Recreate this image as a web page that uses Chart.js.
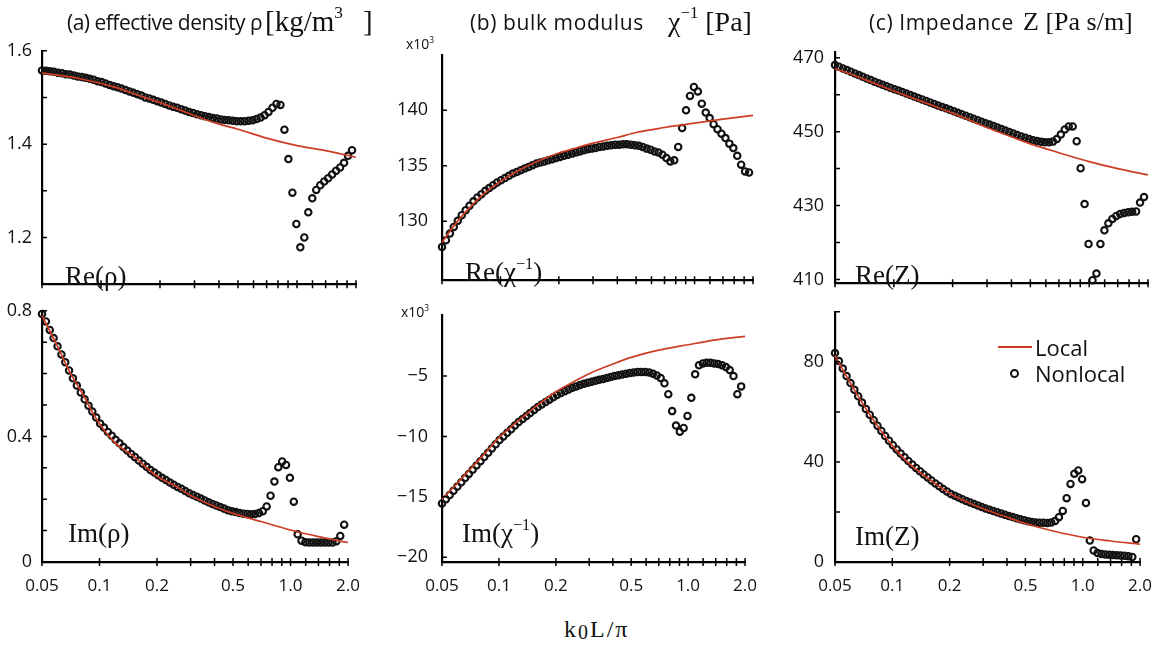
<!DOCTYPE html>
<html lang="en">
<head>
<meta charset="UTF-8" />
<title>Local vs nonlocal effective parameters</title>
<script src="https://cdn.jsdelivr.net/npm/chart.js"></script>
<style>
  html, body { margin: 0; padding: 0; background: #fff; }
  body { width: 1167px; height: 648px; position: relative; overflow: hidden; color: #111; }
  canvas { position: absolute; }
  .t { position: absolute; white-space: nowrap; line-height: 1; }
  .sans { font-family: 'Open Sans', sans-serif; }
  .serif { font-family: 'Liberation Serif', 'Times New Roman', serif; }
  .tag { font-family: 'Liberation Serif', serif; font-size: 27px; }
  sup { font-size: 0.6em; vertical-align: 0.75em; line-height: 0; }
  .legline { position: absolute; height: 0; border-top: 2px solid #cc3d24; }
  .legdot { position: absolute; width: 5px; height: 5px; border: 2px solid #111; border-radius: 50%; }
</style>
</head>
<body>
  <canvas id="reRho"></canvas>
  <canvas id="imRho"></canvas>
  <canvas id="reChi"></canvas>
  <canvas id="imChi"></canvas>
  <canvas id="reZ"></canvas>
  <canvas id="imZ"></canvas>

  <div class="t sans" style="left:67px; top:12px; font-size:21px; letter-spacing:-0.5px;">(a) effective density ρ</div>
  <div class="t serif" style="left:265px; top:7px; font-size:29px;">[kg/m<sup>3</sup><span style="margin-left:20px">]</span></div>
  <div class="t sans" style="left:470px; top:12px; font-size:21px; letter-spacing:0.6px;">(b) bulk modulus</div>
  <div class="t serif" style="left:668px; top:8px; font-size:28px;">χ<sup>−1</sup> [Pa]</div>
  <div class="t sans" style="left:869px; top:12px; font-size:21px; letter-spacing:0.6px;">(c) Impedance</div>
  <div class="t serif" style="left:1023px; top:9px; font-size:26px;">Z [Pa s/m]</div>

  <div class="t tag" style="left:65px; top:263px;">Re(ρ)</div>
  <div class="t tag" style="left:68px; top:520px;">Im(ρ)</div>
  <div class="t tag" style="left:465px; top:259px;">Re(χ<sup>−1</sup>)</div>
  <div class="t tag" style="left:462px; top:520px;">Im(χ<sup>−1</sup>)</div>
  <div class="t tag" style="left:855px; top:262px;">Re(Z)</div>
  <div class="t tag" style="left:855px; top:523px;">Im(Z)</div>

  <div class="t sans" style="left:406px; top:37px; font-size:14px;">x10<sup>3</sup></div>
  <div class="t sans" style="left:401px; top:305px; font-size:14px;">x10<sup>3</sup></div>

  <div class="legline" style="left:998px; top:346px; width:34px;"></div>
  <div class="t sans" style="left:1035px; top:336px; font-size:22px;">Local</div>
  <div class="legdot" style="left:1010px; top:369px;"></div>
  <div class="t sans" style="left:1035px; top:362px; font-size:22px;">Nonlocal</div>

  <div class="t serif" style="left:564px; top:617px; font-size:24px; letter-spacing:2px;">k<span style="font-size:20px; position:relative; top:2px;">0</span>L/π</div>

<script>
// k0L/pi sample points of the nonlocal (circles) and local (line) curves
const xNonlocal = [
  0.05, 0.0524, 0.0549, 0.0575, 0.0603, 0.0632, 0.0662, 0.0693, 0.0726, 0.0761,
  0.0798, 0.0836, 0.0876, 0.0917, 0.0961, 0.1007, 0.1055, 0.1106, 0.1159, 0.1214,
  0.1272, 0.1333, 0.1397, 0.1463, 0.1533, 0.1606, 0.1683, 0.1764, 0.1848, 0.1936,
  0.2029, 0.2126, 0.2227, 0.2334, 0.2445, 0.2562, 0.2685, 0.2813, 0.2947, 0.3088,
  0.3236, 0.3391, 0.3553, 0.3723, 0.3901, 0.4087, 0.4283, 0.4487, 0.4702, 0.4926,
  0.5162, 0.5409, 0.5667, 0.5938, 0.6222, 0.6519, 0.6831, 0.7157, 0.7499, 0.7858,
  0.8233, 0.8628, 0.9040, 0.9472, 0.9925, 1.0399, 1.0896, 1.1417, 1.1963, 1.2535,
  1.3134, 1.3761, 1.4419, 1.5109, 1.5831, 1.6588, 1.7381, 1.8211, 1.9082
];
const xLocal = [0.05, 0.06, 0.07, 0.08, 0.1, 0.12, 0.15, 0.2, 0.25, 0.3, 0.4, 0.5, 0.7, 1.0, 1.4, 2.0];

// (a) effective density
const reRhoNonlocal = [
  1.558, 1.557, 1.556, 1.555, 1.553, 1.552, 1.550, 1.549, 1.547, 1.545,
  1.544, 1.542, 1.540, 1.538, 1.535, 1.533, 1.530, 1.527, 1.524, 1.522,
  1.519, 1.516, 1.513, 1.510, 1.507, 1.504, 1.500, 1.498, 1.495, 1.492,
  1.489, 1.486, 1.483, 1.480, 1.478, 1.475, 1.472, 1.469, 1.467, 1.464,
  1.462, 1.460, 1.458, 1.456, 1.455, 1.453, 1.452, 1.451, 1.450, 1.449,
  1.449, 1.449, 1.450, 1.451, 1.454, 1.457, 1.462, 1.469, 1.478, 1.486,
  1.484, 1.431, 1.368, 1.296, 1.229, 1.179, 1.200, 1.254, 1.284, 1.302,
  1.312, 1.320, 1.327, 1.335, 1.343, 1.350, 1.360, 1.375, 1.387
];
const reRhoLocal = [1.552, 1.548, 1.544, 1.539, 1.530, 1.521, 1.507, 1.489, 1.474, 1.461, 1.443, 1.432, 1.413, 1.397, 1.386, 1.372];
const imRhoNonlocal = [
  0.790, 0.766, 0.739, 0.713, 0.687, 0.661, 0.636, 0.610, 0.585, 0.562,
  0.540, 0.518, 0.498, 0.479, 0.460, 0.441, 0.428, 0.414, 0.402, 0.389,
  0.378, 0.366, 0.355, 0.344, 0.334, 0.323, 0.313, 0.303, 0.293, 0.285,
  0.276, 0.268, 0.261, 0.253, 0.246, 0.239, 0.233, 0.226, 0.219, 0.213,
  0.208, 0.202, 0.196, 0.190, 0.185, 0.180, 0.175, 0.170, 0.165, 0.162,
  0.159, 0.156, 0.154, 0.153, 0.152, 0.153, 0.156, 0.162, 0.177, 0.211,
  0.256, 0.302, 0.320, 0.309, 0.268, 0.192, 0.088, 0.068, 0.063, 0.062,
  0.062, 0.062, 0.062, 0.062, 0.062, 0.062, 0.066, 0.083, 0.119
];
const imRhoLocal = [0.785, 0.689, 0.604, 0.544, 0.440, 0.381, 0.338, 0.273, 0.242, 0.212, 0.177, 0.155, 0.129, 0.102, 0.081, 0.062];

// (b) bulk modulus, x10^3 Pa
const reChiNonlocal = [
  127.7, 128.3, 128.9, 129.5, 130.05, 130.55, 131.0, 131.4, 131.8, 132.15,
  132.45, 132.75, 133.0, 133.25, 133.5, 133.7, 133.9, 134.1, 134.3, 134.45,
  134.6, 134.75, 134.9, 135.05, 135.2, 135.3, 135.4, 135.5, 135.6, 135.7,
  135.8, 135.9, 136.0, 136.1, 136.2, 136.3, 136.4, 136.5, 136.55, 136.6,
  136.7, 136.75, 136.8, 136.85, 136.9, 136.9, 136.95, 136.95, 136.9, 136.85,
  136.8, 136.7, 136.55, 136.45, 136.3, 136.2, 136.0, 135.7, 135.4, 135.5,
  136.7, 138.4, 140.0, 141.3, 142.1, 141.7, 140.6, 139.8, 139.3, 138.75,
  138.3, 137.9, 137.5, 137.0, 136.6, 135.9, 135.1, 134.5, 134.4
];
const reChiLocal = [128.1, 130.0, 131.3, 132.3, 133.6, 134.45, 135.3, 136.15, 136.65, 137.05, 137.55, 138.0, 138.45, 138.85, 139.2, 139.55];
const imChiNonlocal = [
  -15.55, -15.2, -14.85, -14.5, -14.15, -13.8, -13.45, -13.1, -12.75, -12.4,
  -12.05, -11.7, -11.35, -11.0, -10.65, -10.3, -10.0, -9.7, -9.4, -9.1,
  -8.8, -8.55, -8.3, -8.05, -7.8, -7.55, -7.35, -7.15, -6.95, -6.75,
  -6.56, -6.4, -6.25, -6.1, -5.97, -5.85, -5.74, -5.64, -5.55, -5.47,
  -5.39, -5.31, -5.23, -5.15, -5.07, -5.0, -4.93, -4.86, -4.8, -4.74,
  -4.69, -4.66, -4.65, -4.66, -4.7, -4.8, -4.95, -5.15, -5.6, -6.5,
  -7.9, -9.1, -9.6, -9.3, -8.3, -6.8, -4.85, -4.1, -3.95, -3.9,
  -3.9, -3.95, -4.0, -4.1, -4.25, -4.5, -5.0, -6.5, -5.85
];
const imChiLocal = [-15.2, -13.9, -12.75, -11.8, -10.1, -9.0, -7.75, -6.3, -5.45, -4.8, -4.0, -3.45, -2.85, -2.4, -2.0, -1.7];

// (c) impedance, Pa s/m
const reZNonlocal = [
  468.0, 467.55, 467.1, 466.65, 466.2, 465.75, 465.3, 464.85, 464.4, 463.95,
  463.5, 463.1, 462.7, 462.3, 461.9, 461.5, 461.1, 460.7, 460.3, 459.9,
  459.5, 459.1, 458.7, 458.3, 457.9, 457.5, 457.1, 456.7, 456.3, 455.9,
  455.5, 455.1, 454.7, 454.3, 453.9, 453.5, 453.1, 452.7, 452.3, 451.9,
  451.5, 451.1, 450.7, 450.3, 449.9, 449.5, 449.1, 448.7, 448.35, 448.0,
  447.7, 447.45, 447.25, 447.1, 447.1, 447.3, 448.0, 449.2, 450.6, 451.4,
  451.4, 447.4, 440.1, 430.4, 419.6, 409.8, 411.6, 419.6, 423.3, 425.2,
  426.4, 427.2, 427.7, 428.0, 428.2, 428.3, 428.4, 430.8, 432.3
];
const reZLocal = [467.0, 465.6, 464.2, 463.0, 461.0, 459.4, 457.5, 455.0, 452.9, 451.1, 448.6, 446.7, 444.3, 441.9, 440.0, 438.3];
const imZNonlocal = [
  83.5, 80.3, 77.3, 74.3, 71.5, 68.8, 66.2, 63.7, 61.2, 58.9,
  56.7, 54.5, 52.4, 50.4, 48.5, 46.7, 45.0, 43.4, 41.9, 40.4,
  39.0, 37.6, 36.3, 35.0, 33.8, 32.6, 31.4, 30.3, 29.2, 28.2,
  27.2, 26.5, 25.8, 25.1, 24.4, 23.8, 23.2, 22.6, 22.0, 21.4,
  20.9, 20.4, 19.9, 19.4, 18.9, 18.4, 18.0, 17.5, 17.1, 16.7,
  16.3, 16.0, 15.8, 15.7, 15.7, 15.6, 15.8, 16.4, 17.9, 20.4,
  25.5, 31.2, 35.3, 36.6, 33.1, 23.6, 8.6, 4.6, 3.6, 3.2,
  3.0, 2.9, 2.8, 2.7, 2.6, 2.5, 2.3, 2.0, 9.1
];
const imZLocal = [82.5, 71.8, 63.2, 56.5, 46.5, 40.0, 34.0, 27.5, 23.8, 21.3, 17.9, 15.4, 12.4, 9.9, 8.4, 7.1];

// axis ticks
const xTicks = [0.05, 0.1, 0.2, 0.3, 0.4, 0.5, 0.6, 0.7, 0.8, 0.9, 1.0, 1.2, 1.4, 1.6, 1.8, 2.0];
const xTickLabels = ['0.05', '0.1', '0.2', '', '', '0.5', '', '', '', '', '1.0', '', '', '', '', '2.0'];
const reRhoTicks = [1.2, 1.3, 1.4, 1.5, 1.6];
const reRhoLabels = ['1.2', '', '1.4', '', '1.6'];
const imRhoTicks = [0, 0.1, 0.2, 0.3, 0.4, 0.5, 0.6, 0.7, 0.8];
const imRhoLabels = ['0', '', '', '', '0.4', '', '', '', '0.8'];
const reChiTicks = [130, 135, 140];
const reChiLabels = ['130', '135', '140'];
const imChiTicks = [-20, -15, -10, -5];
const imChiLabels = ['−20', '−15', '−10', '−5'];
const reZTicks = [410, 420, 430, 440, 450, 460, 470];
const reZLabels = ['410', '', '430', '', '450', '', '470'];
const imZTicks = [0, 20, 40, 60, 80, 100];
const imZLabels = ['0', '', '40', '', '80', ''];

const RED = '#cc3d24';

// tick marks: inward on y, crossing on x
const tickMarks = {
  id: 'tickMarks',
  afterDraw(chart) {
    const { ctx, chartArea: a, scales: { x, y } } = chart;
    ctx.save();
    ctx.strokeStyle = '#000';
    ctx.lineWidth = 1.5;
    ctx.beginPath();
    y.ticks.forEach(t => {
      const p = y.getPixelForValue(t.value);
      ctx.moveTo(a.left, p);
      ctx.lineTo(a.left + 5, p);
    });
    x.ticks.forEach(t => {
      const p = x.getPixelForValue(t.value);
      ctx.moveTo(p, a.bottom - 4);
      ctx.lineTo(p, a.bottom + 4);
    });
    ctx.stroke();
    ctx.restore();
  }
};

function points(xs, ys) {
  return ys.map((v, i) => ({ x: xs[i], y: v }));
}

function makePanel(id, p) {
  const cv = document.getElementById(id);
  const isTop = p.row === 'top';
  const padTop = 10, padRight = 18;
  const xH = isTop ? 5 : 40;
  const plotTop = isTop ? 40 : 300;
  const plotBottom = isTop ? 300 : 562;
  const yW = p.plotLeft - p.canvasLeft;
  cv.width = yW + (p.plotRight - p.plotLeft) + padRight;
  cv.height = padTop + (plotBottom - plotTop) + xH;
  cv.style.left = p.canvasLeft + 'px';
  cv.style.top = (plotTop - padTop) + 'px';

  return new Chart(cv, {
    type: 'scatter',
    data: {
      datasets: [
        {
          label: 'Local',
          data: points(xLocal, p.local),
          showLine: true,
          borderColor: RED,
          borderWidth: 1.7,
          pointRadius: 0,
          cubicInterpolationMode: 'monotone',
          clip: false
        },
        {
          label: 'Nonlocal',
          data: points(xNonlocal, p.nonlocal),
          showLine: false,
          pointRadius: 3.2,
          pointBorderWidth: 2.1,
          pointBorderColor: '#111',
          pointBackgroundColor: 'rgba(0,0,0,0)',
          clip: false
        }
      ]
    },
    options: {
      responsive: false,
      animation: false,
      events: [],
      layout: { padding: { top: padTop, right: padRight, left: 0, bottom: 0 } },
      plugins: { legend: { display: false }, tooltip: { enabled: false } },
      scales: {
        x: {
          type: 'logarithmic',
          min: 0.05,
          max: 2.0,
          grid: { display: false, drawTicks: false },
          border: { display: true, color: '#000', width: 2.2 },
          afterBuildTicks: s => { s.ticks = xTicks.map(v => ({ value: v })); },
          afterFit: s => { s.height = xH; },
          ticks: {
            display: !isTop,
            autoSkip: false,
            maxRotation: 0,
            padding: 14,
            color: '#111',
            font: { family: 'Open Sans', size: 17 },
            callback: (v, i) => xTickLabels[i]
          }
        },
        y: {
          min: p.min,
          max: p.max,
          grid: { display: false, drawTicks: false },
          border: { display: true, color: '#000', width: 2.2 },
          afterBuildTicks: s => { s.ticks = p.ticks.map(v => ({ value: v })); },
          afterFit: s => { s.width = yW; },
          ticks: {
            autoSkip: false,
            padding: p.pad,
            color: '#111',
            font: { family: 'Open Sans', size: 18 },
            callback: (v, i) => p.labels[i]
          }
        }
      }
    },
    plugins: [tickMarks]
  });
}

makePanel('reRho', { row: 'top', canvasLeft: 0, plotLeft: 42, plotRight: 356, min: 1.1, max: 1.6, ticks: reRhoTicks, labels: reRhoLabels, pad: 10, local: reRhoLocal, nonlocal: reRhoNonlocal });
makePanel('imRho', { row: 'bottom', canvasLeft: 0, plotLeft: 42, plotRight: 356, min: 0, max: 0.8, ticks: imRhoTicks, labels: imRhoLabels, pad: 10, local: imRhoLocal, nonlocal: imRhoNonlocal });
makePanel('reChi', { row: 'top', canvasLeft: 382, plotLeft: 442, plotRight: 753, min: 124.7, max: 145, ticks: reChiTicks, labels: reChiLabels, pad: 14, local: reChiLocal, nonlocal: reChiNonlocal });
makePanel('imChi', { row: 'bottom', canvasLeft: 382, plotLeft: 442, plotRight: 753, min: -20.4, max: 0.08, ticks: imChiTicks, labels: imChiLabels, pad: 14, local: imChiLocal, nonlocal: imChiNonlocal });
makePanel('reZ', { row: 'top', canvasLeft: 775, plotLeft: 835, plotRight: 1148, min: 409, max: 471.6, ticks: reZTicks, labels: reZLabels, pad: 11, local: reZLocal, nonlocal: reZNonlocal });
makePanel('imZ', { row: 'bottom', canvasLeft: 775, plotLeft: 835, plotRight: 1148, min: 0, max: 100, ticks: imZTicks, labels: imZLabels, pad: 11, local: imZLocal, nonlocal: imZNonlocal });
</script>
</body>
</html>
